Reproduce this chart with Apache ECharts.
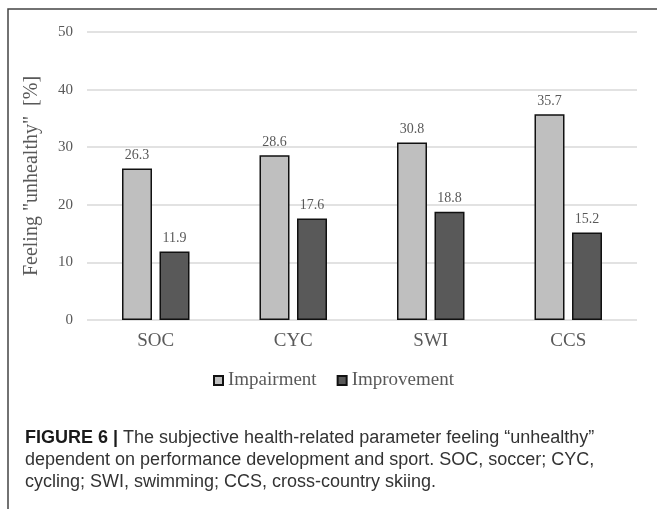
<!DOCTYPE html>
<html>
<head>
<meta charset="utf-8">
<script src="https://cdn.jsdelivr.net/npm/echarts@6/dist/echarts.min.js"></script>
<style>
    html, body { margin: 0; padding: 0; background: #fff; }
    #chart { width: 657px; height: 509px; }
</style>
</head>
<body>
<div id="chart"></div>
<script>
const sports = ["SOC", "CYC", "SWI", "CCS"];
const impairment = [26.3, 28.6, 30.8, 35.7];
const improvement = [11.9, 17.6, 18.8, 15.2];
const yTicks = [0, 10, 20, 30, 40, 50];
const captionLines = [
    "The subjective health-related parameter feeling \u201cunhealthy\u201d",
    "dependent on performance development and sport. SOC, soccer; CYC,",
    "cycling; SWI, swimming; CCS, cross-country skiing.",
];

const serif = "Liberation Serif";
const sans = "Liberation Sans";
const grey = "#595959";

const chart = echarts.init(document.getElementById("chart"), null, { renderer: "canvas" });

const barLabel = {
    show: true,
    position: "top",
    distance: 6,
    color: grey,
    fontFamily: serif,
    fontSize: 14,
};

const option = {
    animation: false,
    backgroundColor: "#fff",
    textStyle: { fontFamily: serif },
    grid: { left: 87, right: 20, top: 32, bottom: 189 },
    legend: {
        data: ["Impairment", "Improvement"],
        left: 208,
        top: 366,
        itemWidth: 9,
        itemHeight: 9,
        itemGap: 20,
        icon: "rect",
        textStyle: { fontFamily: serif, fontSize: 19, color: grey },
    },
    xAxis: {
        type: "category",
        data: sports,
        axisLine: { show: false },
        axisTick: { show: false },
        axisLabel: { margin: 12, color: grey, fontFamily: serif, fontSize: 19 },
    },
    yAxis: {
        type: "value",
        min: yTicks[0],
        max: yTicks[yTicks.length - 1],
        interval: 10,
        name: 'Feeling "unhealthy"  [%]',
        nameLocation: "middle",
        nameGap: 45,
        nameTextStyle: { color: grey, fontFamily: serif, fontSize: 20 },
        axisLine: { show: false },
        axisTick: { show: false },
        axisLabel: { margin: 14, color: grey, fontFamily: serif, fontSize: 15 },
        splitLine: { lineStyle: { color: "#d9d9d9", width: 1.5 } },
    },
    series: [
        {
            name: "Impairment",
            type: "bar",
            barWidth: 30,
            barGap: "25%",
            itemStyle: { color: "#bfbfbf", borderColor: "#111", borderWidth: 1.5 },
            label: barLabel,
            data: impairment,
        },
        {
            name: "Improvement",
            type: "bar",
            barWidth: 30,
            barGap: "25%",
            itemStyle: { color: "#595959", borderColor: "#111", borderWidth: 1.5 },
            label: barLabel,
            data: improvement,
        },
    ],
    graphic: [
        {
            type: "rect",
            shape: { x: 8, y: 9, width: 700, height: 600 },
            style: { fill: "none", stroke: "#444", lineWidth: 1.5 },
            silent: true,
        },
        {
            type: "text",
            left: 25,
            top: 427,
            style: {
                text: "{b|FIGURE 6 |} " + captionLines.join("\n"),
                fontFamily: sans,
                fontSize: 18,
                lineHeight: 22,
                fill: "#333",
                rich: {
                    b: { fontFamily: sans, fontSize: 18, fontWeight: "bold", fill: "#1a1a1a", lineHeight: 22 },
                },
            },
        },
    ],
};

chart.setOption(option);
</script>
</body>
</html>
